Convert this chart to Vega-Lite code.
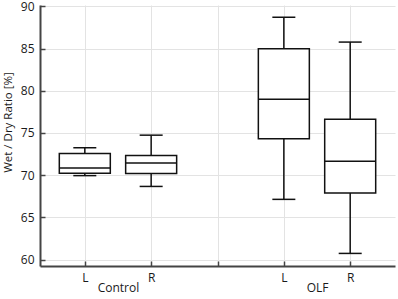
{
  "$schema": "https://vega.github.io/schema/vega-lite/v6.json",
  "width": 355,
  "height": 261,
  "autosize": "none",
  "padding": {"left": 40, "top": 5, "right": 3, "bottom": 33},
  "config": {
    "view": {"stroke": null},
    "font": "Open Sans",
    "axis": {
      "labelFont": "Open Sans",
      "titleFont": "Open Sans",
      "labelColor": "#1a1a1a",
      "titleColor": "#1a1a1a",
      "domainColor": "#444",
      "domainWidth": 2,
      "tickColor": "#444",
      "tickWidth": 1.5,
      "gridColor": "#e3e3e3",
      "gridWidth": 1
    }
  },
  "data": {
    "values": [
      {"group": "Control", "side": "L", "pos": 1, "lo": 69.95, "q1": 70.22, "med": 70.85, "q3": 72.58, "hi": 73.25},
      {"group": "Control", "side": "R", "pos": 2, "lo": 68.67, "q1": 70.2, "med": 71.45, "q3": 72.32, "hi": 74.74},
      {"group": "OLF", "side": "L", "pos": 4, "lo": 67.14, "q1": 74.31, "med": 78.98, "q3": 84.98, "hi": 88.7},
      {"group": "OLF", "side": "R", "pos": 5, "lo": 60.74, "q1": 67.88, "med": 71.65, "q3": 76.63, "hi": 85.76}
    ]
  },
  "resolve": {"axis": {"x": "independent"}},
  "layer": [
    {
      "mark": {"type": "rule", "color": "#111", "strokeWidth": 1.5},
      "encoding": {
        "x": {
          "field": "pos", "type": "quantitative",
          "scale": {"domain": [0.4, 5.6], "nice": false, "zero": false},
          "axis": {
            "orient": "bottom",
            "values": [1, 2, 3, 4, 5],
            "labelExpr": "datum.value == 1 || datum.value == 4 ? 'L' : (datum.value == 2 || datum.value == 5 ? 'R' : '')",
            "labelFontSize": 12,
            "labelPadding": 11,
            "tickSize": -5,
            "grid": true,
            "title": null
          }
        },
        "y": {
          "field": "lo", "type": "quantitative",
          "scale": {"domain": [59.25, 90.15], "nice": false, "zero": false},
          "axis": {
            "values": [60, 65, 70, 75, 80, 85, 90],
            "labelFontSize": 12,
            "labelPadding": 11,
            "tickSize": -5,
            "grid": true,
            "title": "Wet / Dry Ratio [%]",
            "titleFontSize": 11.5,
            "titleFontWeight": "normal",
            "titleX": -27,
            "titleY": 117
          }
        },
        "y2": {"field": "hi"}
      }
    },
    {
      "mark": {"type": "tick", "orient": "horizontal", "size": 23, "thickness": 1.5, "color": "#111", "opacity": 1},
      "encoding": {
        "x": {"field": "pos", "type": "quantitative",
          "axis": {
            "orient": "bottom",
            "values": [1.5, 4.5],
            "labelExpr": "datum.value < 3 ? 'Control' : 'OLF'",
            "labelFontSize": 12,
            "labelPadding": 16,
            "ticks": false,
            "domain": false,
            "grid": false,
            "title": null
          }
        },
        "y": {"field": "hi", "type": "quantitative"}
      }
    },
    {
      "mark": {"type": "tick", "orient": "horizontal", "size": 23, "thickness": 1.5, "color": "#111", "opacity": 1},
      "encoding": {
        "x": {"field": "pos", "type": "quantitative", "axis": null},
        "y": {"field": "lo", "type": "quantitative"}
      }
    },
    {
      "mark": {"type": "bar", "size": 51, "fill": "white", "stroke": "#111", "strokeWidth": 1.5},
      "encoding": {
        "x": {"field": "pos", "type": "quantitative", "axis": null},
        "y": {"field": "q1", "type": "quantitative"},
        "y2": {"field": "q3"}
      }
    },
    {
      "mark": {"type": "tick", "orient": "horizontal", "size": 51, "thickness": 1.5, "color": "#111", "opacity": 1},
      "encoding": {
        "x": {"field": "pos", "type": "quantitative", "axis": null},
        "y": {"field": "med", "type": "quantitative"}
      }
    }
  ]
}
